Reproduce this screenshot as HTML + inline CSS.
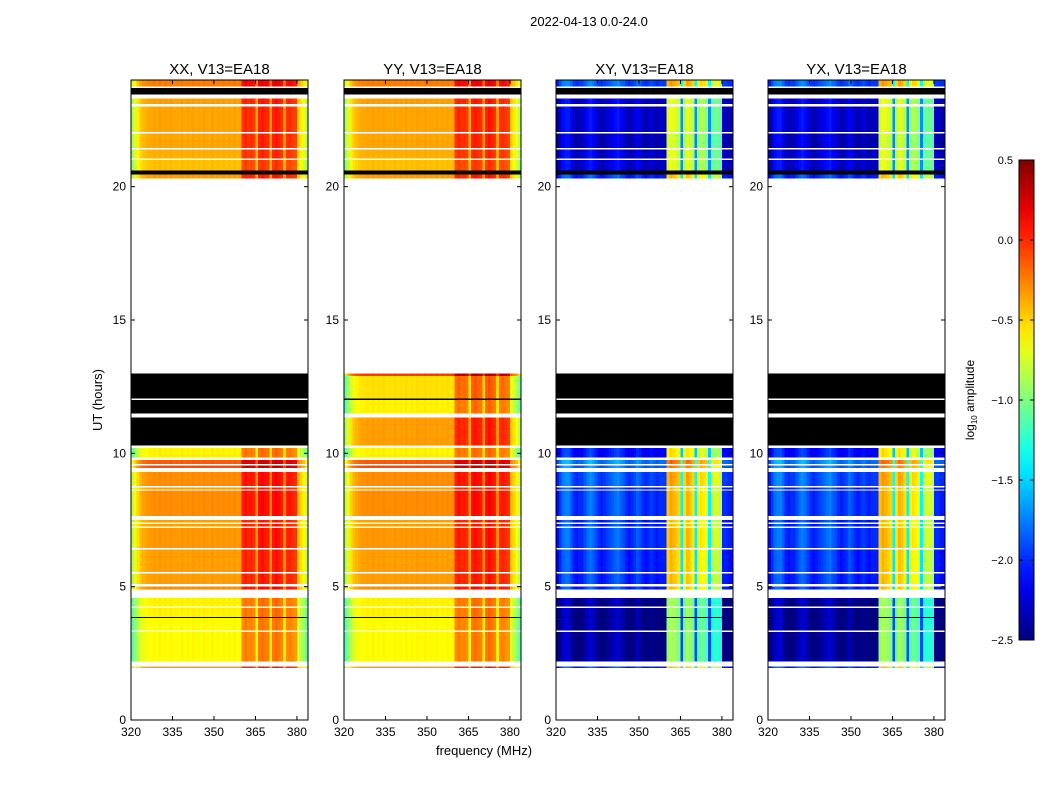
<!DOCTYPE html>
<html><head><meta charset="utf-8"><style>
body{margin:0;background:#fff;}
svg{display:block;font-family:"Liberation Sans",sans-serif;}
</style></head><body>
<svg id="fig" width="1050" height="800" viewBox="0 0 1050 800" xmlns="http://www.w3.org/2000/svg">
<rect width="1050" height="800" fill="#fff"/>
<text x="589" y="26" font-size="13" text-anchor="middle">2022-04-13 0.0-24.0</text>
<text x="484" y="755" font-size="13" text-anchor="middle">frequency (MHz)</text>
<text x="102" y="400" font-size="13" text-anchor="middle" transform="rotate(-90 102 400)">UT (hours)</text>
<g id="panels"></g>
<g id="cbar"></g>
</svg>
<script>
// ---- data ----
const panelTitles = ["XX, V13=EA18","YY, V13=EA18","XY, V13=EA18","YX, V13=EA18"];
const freqStart = 320, freqStep = 1;
const profileAuto = [-0.85,-0.7,-0.55,-0.45,-0.4,-0.37,-0.35,-0.35,-0.33,-0.35,-0.32,-0.35,-0.33,-0.35,-0.32,-0.35,-0.34,-0.35,-0.32,-0.35,-0.33,-0.35,-0.32,-0.35,-0.33,-0.35,-0.32,-0.34,-0.35,-0.32,-0.35,-0.33,-0.35,-0.32,-0.35,-0.33,-0.35,-0.32,-0.35,-0.33,
 0.0,0.05,0.0,0.02,-0.02,-0.35,0.05,0.08,0.04,0.02,-0.3,0.05,0.1,0.05,0.0,-0.3,0.0,0.02,-0.02,-0.05,-0.45,-0.55,-0.65,-0.8];
const profileCross = [-2.15,-2.0,-1.85,-1.8,-1.8,-1.9,-2.05,-2.1,-2.05,-2.05,-1.95,-1.85,-1.8,-1.85,-1.95,-2.05,-2.1,-2.05,-2.0,-1.95,-1.9,-1.85,-1.8,-1.9,-1.95,-2.05,-2.1,-2.05,-2.0,-1.9,-1.95,-2.05,-2.1,-2.05,-2.0,-2.05,-2.1,-2.05,-2.05,-2.05,
 -0.5,-0.4,-0.45,-0.5,-0.55,-1.45,-0.6,-0.45,-0.5,-0.6,-1.45,-0.7,-0.6,-0.65,-0.7,-1.45,-0.85,-0.8,-0.8,-0.85,-2.05,-2.05,-2.1,-2.1];
const rowStart = [1.95,2.0,2.2,3.3,3.35,3.82,3.86,4.2,4.25,4.57,4.9,5.0,5.1,5.5,5.55,6.4,6.45,7.2,7.25,7.35,7.4,7.5,7.65,8.6,8.65,8.72,8.77,9.3,9.45,9.55,9.6,9.75,9.85,10.2,10.3,11.35,11.5,12.0,12.05,12.9,20.3,20.45,20.6,21.0,21.05,21.4,21.45,22.0,22.05,23.0,23.1,23.3,23.45,23.7,23.75];
const rowEnd   = [2.0,2.2,3.3,3.35,3.82,3.86,4.2,4.25,4.57,4.9,5.0,5.1,5.5,5.55,6.4,6.45,7.2,7.25,7.35,7.4,7.5,7.65,8.6,8.65,8.72,8.77,9.3,9.45,9.55,9.6,9.75,9.85,10.2,10.3,11.35,11.5,12.0,12.05,12.9,13.0,20.45,20.6,21.0,21.05,21.4,21.45,22.0,22.05,23.0,23.1,23.3,23.45,23.7,23.75,24.0];
const rowKind  = ["d","w","d","w","d","k","d","w","d","w","d","w","d","w","d","w","d","w","d","w","d","w","d","w","d","w","d","w","d","w","d","w","d","w","k","w","k","w","k","k","d","k","d","w","d","w","d","w","d","w","d","w","k","w","d"];
const rowKindYY= ["d","w","d","w","d","k","d","w","d","w","d","w","d","w","d","w","d","w","d","w","d","w","d","w","d","w","d","w","d","w","d","w","d","w","d","w","d","k","d","d","d","k","d","w","d","w","d","w","d","w","d","w","k","w","d"];
const offAuto  = [0,0,-0.28,0,-0.28,0,-0.25,0,-0.25,0,0.05,0,0,0,0,0,0.02,0,0,0,0,0,0.05,0,0,0,0.05,0,0.25,0,0.2,0,-0.25,0,0.0,0,-0.25,0,-0.2,0.3,0,0,-0.1,0,-0.05,0,-0.02,0,-0.02,0,0,0,0,0,0.1];
const offCross = [0,0,-0.45,0,-0.45,0,-0.45,0,-0.45,0,0,0,0,0,0,0,0.05,0,0,0,0,0,0.05,0,0,0,0.1,0,0.2,0,0.25,0,-0.1,0,0,0,0,0,0,0,0,0,-0.25,0,-0.25,0,-0.3,0,-0.25,0,-0.25,0,0,0,0.1];
const xTicks = [320,335,350,365,380];
const yTicks = [0,5,10,15,20];
const cbTicks = [0.5,0.0,-0.5,-1.0,-1.5,-2.0,-2.5];
// ---- layout ----
const NS="http://www.w3.org/2000/svg";
const panelLeft=[131,344,556,768], PW=177, PT=80, PB=720;
const vmin=-2.5, vmax=0.5;
function jet(v){let t=(v-vmin)/(vmax-vmin);t=Math.max(0,Math.min(1,t));
 const f=x=>Math.max(0,Math.min(1,x));
 const r=f(1.5-Math.abs(4*t-3)),g=f(1.5-Math.abs(4*t-2)),b=f(1.5-Math.abs(4*t-1));
 return `rgb(${Math.round(r*255)},${Math.round(g*255)},${Math.round(b*255)})`;}
function el(tag,attrs,parent){const e=document.createElementNS(NS,tag);for(const k in attrs)e.setAttribute(k,attrs[k]);parent.appendChild(e);return e;}
const yScale=h=>PB-(h/24)*(PB-PT);
const panels=document.getElementById('panels');
panelTitles.forEach((title,p)=>{
 const L=panelLeft[p];
 const xScale=f=>L+(f-320)/64*PW;
 const g=el('g',{},panels);
 
 
 const prof=p<2?profileAuto:profileCross, off=p<2?offAuto:offCross, kinds=p==1?rowKindYY:rowKind;
 const hm=el('g',{'shape-rendering':'crispEdges'},g);
 
 
 rowStart.forEach((s,r)=>{
  const y0=yScale(rowEnd[r]), y1=yScale(s), k=kinds[r];
  if(k==='w')return;
  if(k==='k'){const c=el('rect',{x:L,y:y0,width:PW,height:y1-y0,fill:'#000'},hm);
   
   return;}
  prof.forEach((v,c)=>{
   const f0=freqStart+c*freqStep;
   const x0=xScale(f0), x1=xScale(f0+freqStep);
   const cell=el('rect',{x:x0,y:y0,width:x1-x0+0.3,height:y1-y0,fill:jet(v+off[r])},hm);
   
   
  });
 });
 el('rect',{x:L,y:PT,width:PW,height:PB-PT,fill:'none',stroke:'#000','stroke-width':1},g);
 const t=el('text',{x:L+PW/2,y:74,'font-size':15,'text-anchor':'middle'},g);t.textContent=title;
 
 
 xTicks.forEach(f=>{const x=xScale(f);
  el('line',{x1:x,x2:x,y1:PB,y2:PB-4,stroke:'#000'},g);el('line',{x1:x,x2:x,y1:PT,y2:PT+4,stroke:'#000'},g);
  const tl=el('text',{x:x,y:PB+16,'font-size':12,'text-anchor':'middle'},g);tl.textContent=f;
  
  });
 yTicks.forEach(h=>{const y=yScale(h);
  el('line',{x1:L,x2:L+4,y1:y,y2:y,stroke:'#000'},g);el('line',{x1:L+PW,x2:L+PW-4,y1:y,y2:y,stroke:'#000'},g);
  const tl=el('text',{x:L-5,y:y+4,'font-size':12,'text-anchor':'end'},g);tl.textContent=h;
  
  });
});
// colorbar
const cb=document.getElementById('cbar');


const defs=el('defs',{},cb);const lg=el('linearGradient',{id:'jetg',x1:0,y1:1,x2:0,y2:0},defs);
for(let i=0;i<=20;i++){el('stop',{offset:i/20,'stop-color':jet(vmin+(vmax-vmin)*i/20)},lg);}
const CBT=160,CBB=640,CBL=1019,CBW=15;
el('rect',{x:CBL,y:CBT,width:CBW,height:CBB-CBT,fill:'url(#jetg)',stroke:'#000','stroke-width':1},cb);
const cy=v=>CBB-(v-vmin)/(vmax-vmin)*(CBB-CBT);
cbTicks.forEach(v=>{const y=cy(v);
 el('line',{x1:CBL,x2:CBL+4,y1:y,y2:y,stroke:'#000'},cb);el('line',{x1:CBL+CBW,x2:CBL+CBW-4,y1:y,y2:y,stroke:'#000'},cb);
 const t=el('text',{x:1013,y:y+4,'font-size':11,'text-anchor':'end'},cb);t.textContent=v.toFixed(1).replace('-','\u2212');
 
 });
const cl=el('text',{x:974,y:400,'font-size':12,'text-anchor':'middle',transform:'rotate(-90 974 400)'},cb);
cl.innerHTML='log<tspan font-size="8" dy="3">10</tspan><tspan dy="-3"> amplitude</tspan>';


</script>
</body></html>
